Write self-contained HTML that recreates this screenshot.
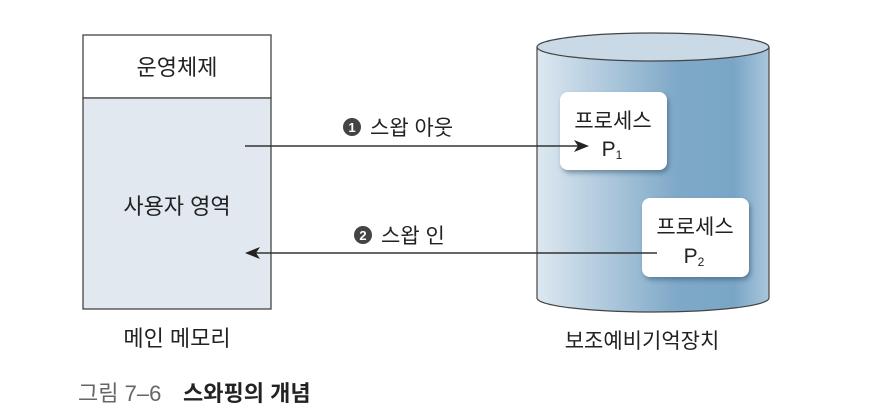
<!DOCTYPE html>
<html><head><meta charset="utf-8"><style>
html,body{margin:0;padding:0;background:#fff;width:880px;height:418px;overflow:hidden}
svg text{font-family:"Liberation Sans","Noto Sans CJK KR",sans-serif;fill:#222}
</style></head><body>
<svg width="880" height="418" viewBox="0 0 880 418" xmlns="http://www.w3.org/2000/svg">
<defs>
<linearGradient id="cg" x1="0" x2="1" y1="0" y2="0">
<stop offset="0" stop-color="#dde8f0"/>
<stop offset="0.6" stop-color="#7fa9c8"/>
<stop offset="0.85" stop-color="#7aa6c6"/>
<stop offset="1" stop-color="#a9c6dc"/>
</linearGradient>
<filter id="sh" x="-20%" y="-20%" width="150%" height="150%"><feDropShadow dx="2" dy="3" stdDeviation="2.5" flood-color="#2a4a66" flood-opacity="0.5"/></filter>
</defs>
<rect x="83" y="35" width="188" height="63" fill="#fff" stroke="#444" stroke-width="1.3"/>
<rect x="83" y="98" width="188" height="211" fill="#e1e8ef" stroke="#444" stroke-width="1.3"/>
<text x="177" y="75" font-size="22" text-anchor="middle">운영체제</text>
<text x="177" y="214" font-size="22" text-anchor="middle">사용자 영역</text>
<text x="177" y="346" font-size="22" text-anchor="middle">메인 메모리</text>
<path d="M537,47 L537,298 A116,14 0 0 0 769,298 L769,47 Z" fill="url(#cg)" stroke="#444" stroke-width="1.2"/>
<ellipse cx="653" cy="47" rx="116" ry="14" fill="#c9d9e6" stroke="#444" stroke-width="1.2"/>
<rect x="560" y="92" width="107" height="78" rx="8" fill="#fff" filter="url(#sh)"/>
<rect x="642" y="198" width="107" height="79" rx="8" fill="#fff" filter="url(#sh)"/>
<text x="613" y="128" font-size="21" text-anchor="middle">프로세스</text>
<text x="612" y="156" font-size="21" text-anchor="middle">P<tspan font-size="12" dy="3">1</tspan></text>
<text x="695" y="234" font-size="21" text-anchor="middle">프로세스</text>
<text x="694" y="263" font-size="21" text-anchor="middle">P<tspan font-size="12" dy="3">2</tspan></text>
<text x="642" y="348" font-size="21" text-anchor="middle">보조예비기억장치</text>
<line x1="245" y1="146" x2="580" y2="146" stroke="#333" stroke-width="1.4"/>
<path d="M589,146 L574,140 L578,146 L574,152 Z" fill="#222"/>
<line x1="254" y1="253" x2="657" y2="253" stroke="#333" stroke-width="1.4"/>
<path d="M245,253 L260,247 L256,253 L260,259 Z" fill="#222"/>
<circle cx="352" cy="127" r="9" fill="#444"/>
<text x="352" y="132" font-size="13" font-weight="bold" text-anchor="middle" style="fill:#fff">1</text>
<text x="370" y="135" font-size="21">스왑 아웃</text>
<circle cx="363" cy="235" r="9" fill="#444"/>
<text x="363" y="240" font-size="13" font-weight="bold" text-anchor="middle" style="fill:#fff">2</text>
<text x="381" y="243" font-size="21">스왑 인</text>
<text x="78" y="401" font-size="22" style="fill:#666">그림 7–6</text>
<text x="183" y="401" font-size="22" font-weight="bold" style="fill:#222">스와핑의 개념</text>
</svg>
</body></html>
